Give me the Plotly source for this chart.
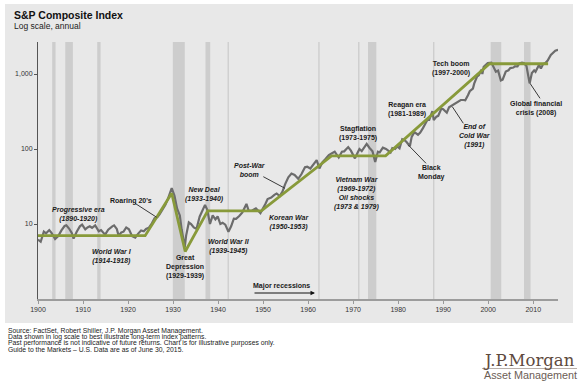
import plotly.graph_objects as go

# ---------------- data ----------------
sp_years = [1900.0, 1900.6, 1901.3, 1901.8, 1902.5, 1903.0, 1903.8, 1904.5, 1905.2, 1905.9,
            1906.3, 1906.9, 1907.5, 1907.9, 1908.6, 1909.3, 1909.8, 1910.5, 1911.0, 1911.5,
            1912.0, 1912.7, 1913.5, 1914.0, 1914.9, 1915.6, 1916.5, 1916.9, 1917.5, 1917.9,
            1918.5, 1919.0, 1919.6, 1920.2, 1920.9, 1921.6, 1922.3, 1922.9, 1923.5, 1924.0,
            1924.6, 1925.3, 1925.9, 1926.5, 1927.0, 1927.7, 1928.3, 1928.9, 1929.7, 1930.3,
            1930.9, 1931.5, 1931.9, 1932.6, 1932.9, 1933.5, 1934.0, 1934.6, 1935.2, 1935.9,
            1936.5, 1937.1, 1937.6, 1938.2, 1938.8, 1939.4, 1939.9, 1940.5, 1941.0, 1941.6,
            1942.3, 1942.9, 1943.5, 1944.0, 1944.7, 1945.4, 1946.3, 1946.8, 1947.5, 1948.4,
            1949.4, 1949.9, 1950.5, 1951.0, 1951.8, 1952.5, 1953.0, 1953.7, 1954.3, 1954.9,
            1955.6, 1956.3, 1957.0, 1957.8, 1958.5, 1959.3, 1959.8, 1960.5, 1961.1, 1961.9,
            1962.5, 1963.2, 1963.9, 1964.6, 1965.3, 1965.9, 1966.8, 1967.5, 1968.0, 1968.9,
            1969.5, 1970.4, 1970.9, 1971.4, 1971.9, 1972.5, 1973.0, 1973.6, 1974.3, 1974.9,
            1975.5, 1975.9, 1976.6, 1977.3, 1977.9, 1978.3, 1978.7, 1979.3, 1979.8, 1980.3,
            1980.9, 1981.5, 1981.9, 1982.6, 1983.0, 1983.6, 1984.4, 1984.9, 1985.5, 1985.9,
            1986.5, 1986.9, 1987.6, 1987.9, 1988.5, 1988.9, 1989.6, 1990.0, 1990.8, 1991.3,
            1991.9, 1992.5, 1992.9, 1993.5, 1993.9, 1994.5, 1994.9, 1995.5, 1995.9, 1996.6,
            1996.9, 1997.5, 1997.9, 1998.5, 1998.7, 1999.0, 1999.5, 1999.9, 2000.7, 2001.0,
            2001.7, 2002.2, 2002.8, 2003.2, 2003.9, 2004.5, 2004.9, 2005.6, 2005.9, 2006.5,
            2006.9, 2007.5, 2007.9, 2008.5, 2008.9, 2009.2, 2009.7, 2010.2, 2010.5, 2010.9,
            2011.3, 2011.7, 2012.2, 2012.7, 2013.2, 2013.9, 2014.5, 2014.9, 2015.5]
sp_values = [6.2, 5.8, 7.9, 7.5, 8.3, 7.6, 6.3, 6.9, 8.2, 9.4,
             9.6, 8.7, 7.6, 6.4, 7.9, 9.3, 9.8, 8.5, 9.0, 9.3,
             8.9, 9.6, 8.0, 8.3, 7.2, 8.4, 9.3, 9.6, 8.6, 7.0,
             7.7, 7.9, 9.0, 8.5, 6.9, 6.6, 7.5, 8.2, 8.0, 8.6,
             8.9, 10.2, 12.0, 12.3, 13.4, 15.5, 18.0, 22.0, 30.0, 24.0,
             16.0, 13.0, 8.5, 4.9, 7.0, 10.5, 10.0, 9.0, 8.6, 12.5,
             15.0, 18.0, 15.5, 10.0, 13.0, 11.5, 12.6, 10.0, 10.4, 9.8,
             7.9, 9.3, 11.8, 11.7, 12.8, 14.3, 18.5, 15.0, 15.0, 16.2,
             14.0, 16.3, 18.5, 21.5, 22.5, 24.5, 25.5, 23.5, 27.0, 34.0,
             42.0, 47.0, 45.0, 40.0, 46.0, 57.0, 58.0, 55.0, 62.0, 71.0,
             55.0, 67.0, 74.0, 83.0, 88.0, 92.0, 77.0, 92.0, 93.0, 106.0,
             95.0, 75.0, 87.0, 100.0, 94.0, 107.0, 117.0, 104.0, 93.0, 67.0,
             92.0, 90.0, 104.0, 100.0, 94.0, 90.0, 103.0, 100.0, 108.0, 102.0,
             135.0, 130.0, 123.0, 109.0, 145.0, 168.0, 155.0, 166.0, 190.0, 210.0,
             245.0, 245.0, 320.0, 242.0, 270.0, 277.0, 345.0, 340.0, 305.0, 360.0,
             380.0, 400.0, 420.0, 440.0, 450.0, 450.0, 445.0, 520.0, 590.0, 640.0,
             750.0, 920.0, 960.0, 1140.0, 1000.0, 1250.0, 1330.0, 1400.0, 1420.0, 1300.0,
             1070.0, 1110.0, 820.0, 840.0, 1080.0, 1120.0, 1200.0, 1220.0, 1260.0, 1260.0,
             1380.0, 1420.0, 1400.0, 1280.0, 900.0, 750.0, 1030.0, 1120.0, 1070.0, 1230.0,
             1330.0, 1180.0, 1360.0, 1400.0, 1510.0, 1800.0, 1960.0, 2050.0, 2100.0]

trend_years = [1900.0, 1923.8, 1929.7, 1932.7, 1937.7, 1949.6, 1965.2, 1977.2, 2000.3, 2013.3]
trend_values = [7.0, 7.0, 25.7, 4.3, 15.0, 15.0, 81.0, 81.0, 1370.0, 1370.0]

recession_start = [1903.15, 1906.05, 1913.15, 1929.95, 1937.2, 1942.1, 1962.25, 1971.1,
                   1973.3, 1987.75, 2000.55, 2007.95]
recession_end = [1903.9, 1907.75, 1913.9, 1932.6, 1938.25, 1942.4, 1962.55, 1971.4,
                 1975.15, 1988.05, 2002.9, 2009.4]

x_ticks = list(range(1900, 2011, 10))
y_ticks = [10, 100, 1000]
y_tick_labels = ["10", "100", "1,000"]

# ---------------- layout geometry ----------------
W, H = 579, 389
ML, MR, MT, MB = 38, 21, 42, 90
PW, PH = W - ML - MR, H - MT - MB


def px(x):
    return (x - ML) / PW


def py(y):
    return (H - MB - y) / PH


fig = go.Figure()

fig.add_trace(go.Scatter(x=sp_years, y=sp_values, mode="lines",
                         line=dict(color="#6c6c6c", width=2.2), hoverinfo="skip",
                         showlegend=False))
fig.add_trace(go.Scatter(x=trend_years, y=trend_values, mode="lines",
                         line=dict(color="#889a3a", width=2.8), hoverinfo="skip",
                         showlegend=False))

shapes = [dict(type="rect", xref="paper", yref="paper", x0=px(5), x1=px(573),
               y0=py(323), y1=py(4), fillcolor="#e8e8e8", line=dict(width=0),
               layer="below")]
for s, e in zip(recession_start, recession_end):
    shapes.append(dict(type="rect", xref="x", yref="paper", x0=s, x1=e, y0=0, y1=1,
                       fillcolor="#cdcdcd", line=dict(width=0), layer="below"))

# pointer lines
pointers = [((135, 203.3), (156.7, 217.3)),
            ((263.3, 176.7), (285, 188.3)),
            ((408.3, 145), (426, 163.3)),
            ((452.3, 106.7), (463.3, 123.3)),
            ((530, 83.3), (540, 98.3))]
for (x0, y0), (x1, y1) in pointers:
    shapes.append(dict(type="line", xref="paper", yref="paper", x0=px(x0), y0=py(y0),
                       x1=px(x1), y1=py(y1), line=dict(color="#3a3a3a", width=1)))
# logo rule
shapes.append(dict(type="line", xref="paper", yref="paper", x0=px(482), x1=px(577),
                   y0=py(368.5), y1=py(368.5), line=dict(color="#9a8d85", width=0.7)))

FONT = "Arial, Liberation Sans, sans-serif"
annotations = []


def label(text, x, y, size=7, color="#1a1a1a", anchor="center", family=FONT):
    annotations.append(dict(text=text, xref="paper", yref="paper", x=px(x), y=py(y),
                            xanchor=anchor, yanchor="middle", showarrow=False,
                            font=dict(size=size, color=color, family=family)))


labels = [
    ("<b><i>Progressive era<br>(1890-1920)</i></b>", 78, 214.5),
    ("<b>Roaring 20's</b>", 131, 200.7),
    ("<b><i>World War I<br>(1914-1918)</i></b>", 111.7, 256.2),
    ("<b>Great<br>Depression<br>(1929-1939)</b>", 185, 267.3),
    ("<b><i>New Deal<br>(1933-1940)</i></b>", 204, 194.6),
    ("<b><i>World War II<br>(1939-1945)</i></b>", 229.3, 246.3),
    ("<b><i>Post-War<br>boom</i></b>", 250, 170),
    ("<b><i>Korean War<br>(1950-1953)</i></b>", 289, 222),
    ("<b>Stagflation<br>(1973-1975)</b>", 358.3, 133.5),
    ("<b><i>Vietnam War<br>(1969-1972)<br>Oil shocks<br>(1973 &amp; 1979)</i></b>", 356, 193.3),
    ("<b>Reagan era<br>(1981-1989)</b>", 407.3, 109.2),
    ("<b>Tech boom<br>(1997-2000)</b>", 450.7, 68.5),
    ("<b>Black<br>Monday</b>", 431, 172.3),
    ("<b><i>End of<br>Cold War<br>(1991)</i></b>", 475, 136.3),
    ("<b>Global financial<br>crisis (2008)</b>", 535.7, 108.3),
    ("<b>Major recessions</b>", 281.3, 285.7),
]
for t, x, y in labels:
    label(t, x, y)

# major recessions arrow
annotations.append(dict(text="", xref="paper", yref="paper", x=px(315), y=py(293),
                        ax=253 - 315, ay=0, showarrow=True, arrowhead=2, arrowsize=0.9,
                        arrowwidth=1, arrowcolor="#111111"))

# titles
label("<b>S&amp;P Composite Index</b>", 12, 15.5, size=10.5, color="#111111", anchor="left")
label("Log scale, annual", 12, 26, size=8.5, color="#222222", anchor="left")

# footer
footer = ["Source: FactSet, Robert Shiller, J.P. Morgan Asset Management.",
          "Data shown in log scale to best illustrate long-term index patterns.",
          "Past performance is not indicative of future returns. Chart is for illustrative purposes only.",
          "Guide to the Markets \u2013 U.S. Data are as of June 30, 2015."]
for i, line in enumerate(footer):
    label(line, 6, 330.7 + i * 6.3, size=6.8, color="#222222", anchor="left")

# logo
label("J.P.Morgan", 480.5, 360.5, size=16.5, color="#5e4a3e", anchor="left",
      family="DejaVu Serif, Liberation Serif, serif")
label("Asset Management", 482, 375, size=10.8, color="#6b5d55", anchor="left")

fig.update_layout(
    template="none",
    width=W, height=H,
    margin=dict(l=ML, r=MR, t=MT, b=MB, pad=0),
    paper_bgcolor="white",
    plot_bgcolor="#e8e8e8",
    showlegend=False,
    shapes=shapes,
    annotations=annotations,
    xaxis=dict(range=[1900, 2015.5], tickvals=x_ticks, ticks="outside", ticklen=3,
               tickcolor="#999999", showline=True, linecolor="#9c9c9c", linewidth=2,
               showgrid=False, zeroline=False, automargin=False,
               tickfont=dict(size=7, color="#333333", family=FONT)),
    yaxis=dict(type="log", range=[0, PH / 75.0], tickvals=y_ticks, ticktext=y_tick_labels,
               ticks="outside", ticklen=3, tickcolor="#555555", showline=True,
               linecolor="#555555", linewidth=1, showgrid=False, zeroline=False,
               automargin=False, tickfont=dict(size=7, color="#333333", family=FONT)),
)

fig.write_html("out.html", config={"displayModeBar": False},
               post_script="document.body.style.margin='0';document.body.style.padding='0';")
